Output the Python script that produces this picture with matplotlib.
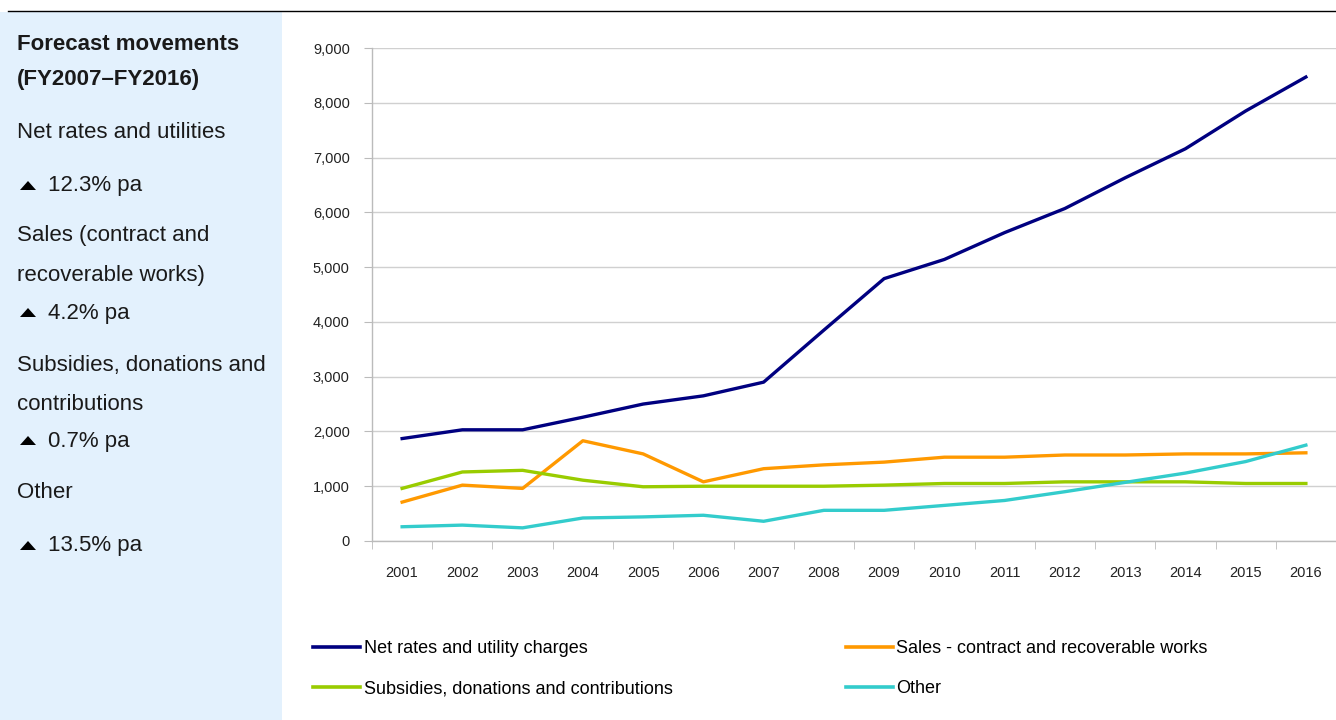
import numpy as np
import matplotlib
matplotlib.use('Agg')
import matplotlib.pyplot as plt
import matplotlib.patches as mpatches
from matplotlib.lines import Line2D
from matplotlib.ticker import FuncFormatter, FixedLocator

# ── data ($'000) ──
years = [2001, 2002, 2003, 2004, 2005, 2006, 2007, 2008,
         2009, 2010, 2011, 2012, 2013, 2014, 2015, 2016]
net_rates = [1870, 2030, 2030, 2260, 2500, 2650, 2900, 3850,
             4790, 5140, 5630, 6070, 6630, 7160, 7850, 8470]
sales = [710, 1020, 960, 1830, 1590, 1080, 1320, 1390,
         1440, 1530, 1530, 1570, 1570, 1590, 1590, 1610]
subsidies = [960, 1260, 1290, 1110, 990, 1000, 1000, 1000,
             1020, 1050, 1050, 1080, 1080, 1080, 1050, 1050]
other = [260, 290, 240, 420, 440, 470, 360, 560,
         560, 650, 740, 900, 1070, 1240, 1450, 1750]

series_names = ['Net rates and utility charges', 'Sales - contract and recoverable works',
                'Subsidies, donations and contributions', 'Other']
side_items = [('Net rates and utilities', '12.3% pa'),
              ('Sales (contract and\nrecoverable works)', '4.2% pa'),
              ('Subsidies, donations and\ncontributions', '0.7% pa'),
              ('Other', '13.5% pa')]

NAVY, ORANGE, GREEN, CYAN = '#000080', '#FF9900', '#99CC00', '#33CCCC'
COLORS = [NAVY, ORANGE, GREEN, CYAN]
PANEL = '#E3F1FD'
GRID = '#D0D0D0'
TXT = '#1a1a1a'

plt.rcParams['font.family'] = ['Liberation Sans', 'DejaVu Sans']

W, H = 1336, 720
fig = plt.figure(figsize=(W / 100, H / 100), dpi=100)
fig.patch.set_facecolor('white')

def fx(px):
    return px / W

def fy(py):
    return 1 - py / H

# side panel + top rule
fig.patches.append(mpatches.Rectangle((0, 0), fx(282), fy(12), transform=fig.transFigure,
                                      facecolor=PANEL, edgecolor='none', zorder=0))
fig.lines.append(Line2D([fx(8), 1], [fy(11)] * 2, transform=fig.transFigure,
                        color='black', lw=1.0))

fig.text(fx(17), fy(45), 'Forecast movements', fontsize=16, fontweight='bold',
         va='center', color=TXT)
fig.text(fx(17), fy(80), '(FY2007\u2013FY2016)', fontsize=16, fontweight='bold',
         va='center', color=TXT)

ys = [(132, 186), (236, 313), (365, 441), (493, 546)]
for (label, pct), (y0, y1) in zip(side_items, ys):
    for k, ln in enumerate(label.split('\n')):
        fig.text(fx(17), fy(y0 + k * 39), ln, fontsize=16, va='center', color=TXT)
    # small up-arrow marker
    tri = mpatches.Polygon([(fx(20), fy(y1 + 4)), (fx(36), fy(y1 + 4)), (fx(28), fy(y1 - 5))],
                           closed=True, transform=fig.transFigure,
                           facecolor='black', edgecolor='none')
    fig.patches.append(tri)
    fig.text(fx(48), fy(y1), pct, fontsize=16, va='center', color=TXT)

# ── chart ──
ax = fig.add_axes([fx(372), fy(541), 1 - fx(372), (541 - 48) / H])
x = np.arange(len(years))
for vals, c, name in zip([net_rates, sales, subsidies, other], COLORS, series_names):
    ax.plot(x, vals, color=c, lw=2.4, label=name, solid_joinstyle='round', zorder=3)

ax.set_xlim(-0.5, len(years) - 0.5)
ax.set_ylim(0, 9000)
ax.set_yticks(np.arange(0, 9001, 1000))
ax.yaxis.set_major_formatter(FuncFormatter(lambda v, p: f'{int(v):,}'))
ax.grid(axis='y', color=GRID, lw=1.0)
ax.set_axisbelow(True)

ax.set_xticks(x)
ax.set_xticklabels([str(y) for y in years])
ax.xaxis.set_minor_locator(FixedLocator(np.arange(-0.5, len(years), 1.0)))
ax.tick_params(axis='x', which='major', length=0, pad=18, labelsize=10.5, labelcolor='#222222')
ax.tick_params(axis='x', which='minor', length=6, color='#BBBBBB', direction='out')
ax.tick_params(axis='y', length=6, color='#BBBBBB', pad=10, labelsize=10.5, labelcolor='#222222')

for s in ['top', 'right']:
    ax.spines[s].set_visible(False)
for s in ['left', 'bottom']:
    ax.spines[s].set_color('#BBBBBB')
    ax.spines[s].set_linewidth(1.0)

# legend, filled row by row
order = [0, 2, 1, 3]
handles = [Line2D([], [], color=COLORS[i], lw=2.6) for i in order]
labels = [series_names[i] for i in order]
fig.legend(handles, labels, loc='upper left', bbox_to_anchor=(fx(313), fy(640)),
           ncol=2, frameon=False, fontsize=13, handlelength=2.6, handletextpad=0.2,
           columnspacing=9.6, labelspacing=1.3, borderaxespad=0, borderpad=0)

fig.savefig('out.png', dpi=100, facecolor='white')
